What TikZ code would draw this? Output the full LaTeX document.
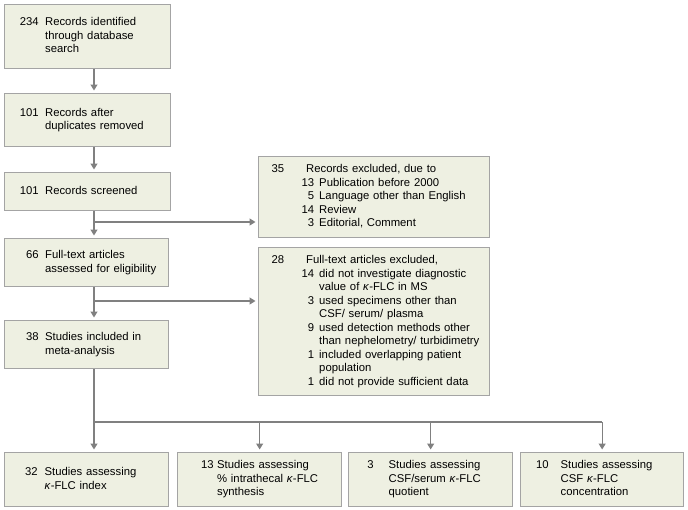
\documentclass[tikz,border=0pt]{standalone}
\usepackage{fontspec}
\setmainfont{Liberation Sans}
\usepackage{array}
\usepackage{tikz}
\usetikzlibrary{arrows.meta}
\usetikzlibrary{calc}

\definecolor{boxfill}{HTML}{EEF0E2}
\definecolor{boxline}{HTML}{A4A4A4}
\definecolor{arrowgray}{HTML}{808080}

% pad, number width, gap, rows
\newcommand{\rows}[4]{\renewcommand{\arraystretch}{1}%
\begin{tabular}{@{\hspace{#1}}>{\raggedleft\arraybackslash}p{#2}@{\hspace{#3}}l@{}}#4\end{tabular}}
% rows of an exclusion box: outer number, inner number, text
\newcommand{\exrows}[1]{\renewcommand{\arraystretch}{1}%
\begin{tabular}{@{\hspace{13pt}}l@{\hspace{16pt}}>{\raggedleft\arraybackslash}p{14pt}@{\hspace{5pt}}l@{}}#1\end{tabular}}
\newcommand{\kap}{\textit{κ}}

\tikzset{
	box/.style={draw=boxline,fill=boxfill,line width=1.3pt,anchor=north west,
		inner sep=0pt,align=left,font=\fontsize{11.3}{13.5}\selectfont},
	boxwh/.style 2 args={minimum width=#1,text width=#1,minimum height=#2},
	line/.style={draw=arrowgray,line width=1.2pt},
	arrow/.style={line,-{Triangle[length=6pt,width=7pt]},shorten >=2.5pt}
}

\begin{document}
\begin{tikzpicture}[x=1pt,y=-1pt]
\useasboundingbox (0,0) rectangle (688,509);
% main column
\node[box,boxwh={166pt}{64pt}] (b1) at (4,4) {\rows{14pt}{20pt}{6.5pt}{234 & Records identified\\ & through database\\ & search}};
\node[box,boxwh={166pt}{53pt}] (b2) at (4,93) {\rows{14pt}{20pt}{6.5pt}{101 & Records after\\ & duplicates removed}};
\node[box,boxwh={166pt}{38pt}] (b3) at (4,172) {\rows{14pt}{20pt}{6.5pt}{101 & Records screened}};
\node[box,boxwh={164pt}{48pt}] (b4) at (4,238) {\rows{14pt}{20pt}{6.5pt}{66 & Full-text articles\\ & assessed for eligibility}};
\node[box,boxwh={164pt}{48pt}] (b5) at (4,320) {\rows{14pt}{20pt}{6.5pt}{38 & Studies included in\\ & meta-analysis}};
% exclusions
\node[box,boxwh={231pt}{81pt}] (ex1) at (258,156) {\exrows{35 & \multicolumn{2}{l@{}}{Records excluded, due to}\\
	& 13 & Publication before 2000\\
	& 5 & Language other than English\\
	& 14 & Review\\
	& 3 & Editorial, Comment}};
\node[box,boxwh={231pt}{148pt}] (ex2) at (258,247) {\exrows{28 & \multicolumn{2}{l@{}}{Full-text articles excluded,}\\
	& 14 & did not investigate diagnostic\\
	& & value of \kap-FLC in MS\\
	& 3 & used specimens other than\\
	& & CSF/ serum/ plasma\\
	& 9 & used detection methods other\\
	& & than nephelometry/ turbidimetry\\
	& 1 & included overlapping patient\\
	& & population\\
	& 1 & did not provide sufficient data}};
% studies
\node[box,boxwh={164pt}{54pt}] (s1) at (4,452) {\rows{13pt}{20pt}{7pt}{32 & Studies assessing\\ & \kap-FLC index}};
\node[box,boxwh={164pt}{54pt}] (s2) at (177,452) {\rows{16pt}{20pt}{3.5pt}{13 & Studies assessing\\ & \% intrathecal \kap-FLC\\ & synthesis}};
\node[box,boxwh={164pt}{54pt}] (s3) at (348,452) {\rows{5pt}{20pt}{15pt}{3 & Studies assessing\\ & CSF/serum \kap-FLC\\ & quotient}};
\node[box,boxwh={163pt}{54pt}] (s4) at (520,452) {\rows{8pt}{20pt}{12pt}{10 & Studies assessing\\ & CSF \kap-FLC\\ & concentration}};

\coordinate (colx) at (94,0);
\coordinate (br1) at (94,222);
\coordinate (br2) at (94,301);
\coordinate (split) at (94,422);

\draw[arrow] (b1.south -| colx) -- (b2.north -| colx);
\draw[arrow] (b2.south -| colx) -- (b3.north -| colx);
\draw[arrow] (b3.south -| colx) -- (b4.north -| colx);
\draw[arrow] (b4.south -| colx) -- (b5.north -| colx);
\draw[arrow] (br1) -- (br1 -| ex1.west);
\draw[arrow] (br2) -- (br2 -| ex2.west);
\draw[line] (b5.south -| colx) -- (split) -- (split -| s4.north);
\draw[arrow] (split) -- (s1.north -| colx);
\foreach \s in {s2,s3,s4}
	\draw[arrow] (split -| \s.north) -- (\s.north);
\end{tikzpicture}
\end{document}
